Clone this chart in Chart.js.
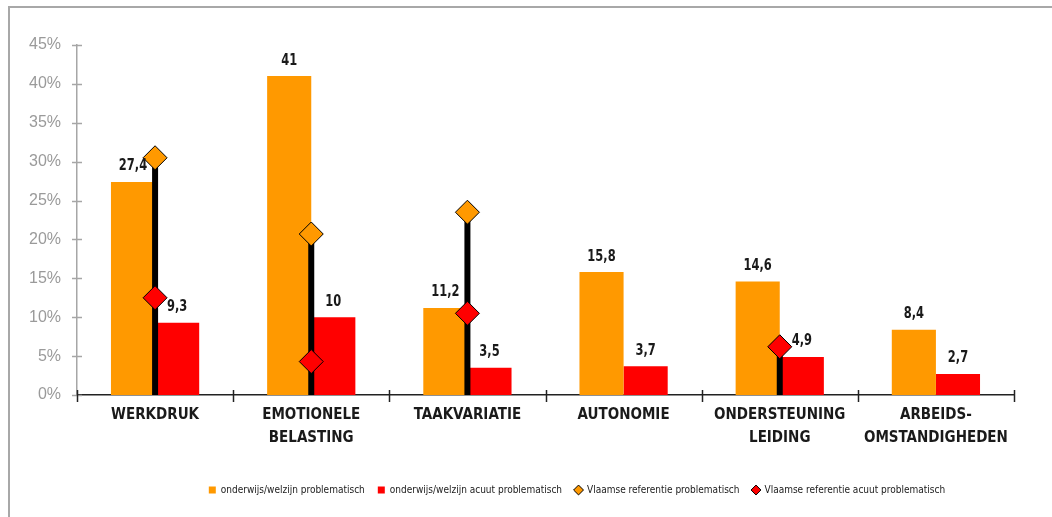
<!DOCTYPE html>
<html>
<head>
<meta charset="utf-8">
<script src="https://cdn.jsdelivr.net/npm/chart.js@4/dist/chart.umd.min.js"></script>
<style>
  html, body { margin: 0; padding: 0; background: #fff; }
  #wrap { width: 1052px; height: 517px; position: relative; }
</style>
</head>
<body>
<div id="wrap"><canvas id="c" width="1052" height="517"></canvas></div>
<script>
// Werkbaarheidsknelpunten: sector onderwijs/welzijn versus Vlaamse referentie
const categories = ['WERKDRUK', ['EMOTIONELE', 'BELASTING'], 'TAAKVARIATIE', 'AUTONOMIE', ['ONDERSTEUNING', 'LEIDING'], ['ARBEIDS-', 'OMSTANDIGHEDEN']];
const sectorProblematisch = [27.4, 41, 11.2, 15.8, 14.6, 8.4];
const sectorAcuut = [9.3, 10, 3.5, 3.7, 4.9, 2.7];
const vlaamsProblematisch = [30.5, 20.7, 23.5, null, null, null];
const vlaamsAcuut = [12.5, 4.3, 10.5, null, 6.2, null];
const yTicks = [0, 5, 10, 15, 20, 25, 30, 35, 40, 45];

const ORANGE = '#ff9900';
const RED = '#ff0000';
const NARROW = "'Liberation Sans Narrow', 'DejaVu Sans Condensed', sans-serif";

const fmt = v => String(v).replace('.', ',');

// grey frame along top and left edge
const framePlugin = {
  id: 'frame',
  beforeDraw(chart) {
    const ctx = chart.ctx;
    ctx.save();
    ctx.strokeStyle = '#a8a8a8';
    ctx.lineWidth = 2;
    ctx.beginPath();
    ctx.moveTo(9, chart.height);
    ctx.lineTo(9, 7);
    ctx.lineTo(chart.width, 7);
    ctx.stroke();
    ctx.restore();
  }
};

// black stem from 0 up to the highest reference value, under the diamonds
const stemPlugin = {
  id: 'stem',
  beforeDraw(chart) { chart.$stemDone = false; },
  beforeDatasetDraw(chart, args) {
    if (chart.$stemDone || args.meta.type !== 'line') return;
    chart.$stemDone = true;
    const x = chart.scales.x, y = chart.scales.y, ctx = chart.ctx;
    ctx.save();
    ctx.strokeStyle = '#000';
    ctx.lineWidth = 6;
    categories.forEach((c, i) => {
      const vals = [vlaamsProblematisch[i], vlaamsAcuut[i]].filter(v => v !== null);
      if (!vals.length) return;
      const top = Math.max(...vals);
      const px = x.getPixelForValue(i);
      ctx.beginPath();
      ctx.moveTo(px, y.getPixelForValue(0));
      ctx.lineTo(px, y.getPixelForValue(top));
      ctx.stroke();
    });
    ctx.restore();
  }
};

// value labels above the bars, slightly condensed
const valueLabels = {
  id: 'valueLabels',
  afterDatasetsDraw(chart) {
    const ctx = chart.ctx;
    const sx = 0.85;
    ctx.save();
    ctx.font = "bold 15px " + NARROW;
    ctx.fillStyle = '#1a1a1a';
    ctx.textAlign = 'center';
    ctx.textBaseline = 'bottom';
    [0, 1].forEach(di => {
      const meta = chart.getDatasetMeta(di);
      meta.data.forEach((bar, i) => {
        const v = chart.data.datasets[di].data[i];
        ctx.save();
        ctx.translate(bar.x, bar.y - 8);
        ctx.scale(sx, 1);
        ctx.fillText(fmt(v), 0, 0);
        ctx.restore();
      });
    });
    ctx.restore();
  }
};

// tick marks crossing both axes
const crossTicks = {
  id: 'crossTicks',
  afterDraw(chart) {
    const ctx = chart.ctx, x = chart.scales.x, y = chart.scales.y;
    const a = chart.chartArea;
    ctx.save();
    ctx.lineWidth = 1.5;
    ctx.strokeStyle = '#a6a6a6';
    yTicks.forEach(t => {
      const py = Math.round(y.getPixelForValue(t)) + 0.5;
      ctx.beginPath();
      ctx.moveTo(a.left - 5, py);
      ctx.lineTo(a.left + 5, py);
      ctx.stroke();
    });
    ctx.strokeStyle = '#222';
    const half = (x.getPixelForValue(1) - x.getPixelForValue(0)) / 2;
    for (let i = 0; i <= categories.length; i++) {
      const px = Math.round(x.getPixelForValue(0) - half + i * 2 * half) + 0.5;
      ctx.beginPath();
      ctx.moveTo(px, a.bottom - 5);
      ctx.lineTo(px, a.bottom + 7);
      ctx.stroke();
    }
    ctx.restore();
  }
};

// legend sits a little right of centre
const legendShift = {
  id: 'legendShift',
  afterLayout(chart) {
    if (chart.legend) {
      chart.legend.left += 70;
      chart.legend.right += 70;
    }
  }
};

new Chart(document.getElementById('c'), {
  type: 'bar',
  data: {
    labels: categories,
    datasets: [
      { label: 'onderwijs/welzijn problematisch', data: sectorProblematisch, backgroundColor: ORANGE, order: 1 },
      { label: 'onderwijs/welzijn acuut problematisch', data: sectorAcuut, backgroundColor: RED, order: 1 },
      { type: 'line', label: 'Vlaamse referentie problematisch', data: vlaamsProblematisch, showLine: false,
        pointStyle: 'rectRot', pointRadius: 12, pointHoverRadius: 12, pointBackgroundColor: ORANGE,
        pointBorderColor: '#000', pointBorderWidth: 1, backgroundColor: ORANGE, borderColor: '#000', order: 0 },
      { type: 'line', label: 'Vlaamse referentie acuut problematisch', data: vlaamsAcuut, showLine: false,
        pointStyle: 'rectRot', pointRadius: 12, pointHoverRadius: 12, pointBackgroundColor: RED,
        pointBorderColor: '#000', pointBorderWidth: 1, backgroundColor: RED, borderColor: '#000', order: 0 }
    ]
  },
  options: {
    responsive: false,
    animation: false,
    layout: { padding: { left: 0, right: 38, top: 45, bottom: 12 } },
    datasets: { bar: { categoryPercentage: 0.565, barPercentage: 1 } },
    scales: {
      x: {
        grid: { display: false },
        border: { display: true, color: '#222', width: 1.5 },
        ticks: { color: '#1a1a1a', font: { family: NARROW, size: 15, weight: 'bold', lineHeight: 1.5 }, padding: 1, maxRotation: 0, autoSkip: false },
        afterFit(s) { s.height = 77; }
      },
      y: {
        min: 0, max: 45,
        afterBuildTicks(s) { s.ticks = yTicks.map(v => ({ value: v })); },
        grid: { display: false },
        border: { display: true, color: '#a6a6a6', width: 1.5 },
        ticks: { color: '#9a9a9a', font: { family: "'Liberation Sans', Arial, sans-serif", size: 16 }, padding: 8, callback: v => v + '%' },
        afterFit(s) { s.width = 77; }
      }
    },
    plugins: {
      tooltip: { enabled: false },
      legend: {
        position: 'bottom',
        labels: {
          color: '#1a1a1a',
          font: { family: NARROW, size: 10 },
          boxWidth: 7, boxHeight: 7, padding: 13,
          usePointStyle: true,
          generateLabels(chart) {
            return chart.data.datasets.map((ds, i) => ({
              text: ds.label,
              datasetIndex: i,
              fillStyle: ds.type === 'line' ? ds.pointBackgroundColor : ds.backgroundColor,
              strokeStyle: '#000',
              lineWidth: ds.type === 'line' ? 1 : 0,
              pointStyle: ds.type === 'line' ? 'rectRot' : 'rect',
              hidden: false,
              fontColor: '#1a1a1a'
            }));
          }
        }
      }
    }
  },
  plugins: [framePlugin, stemPlugin, valueLabels, crossTicks, legendShift]
});
</script>
</body>
</html>
